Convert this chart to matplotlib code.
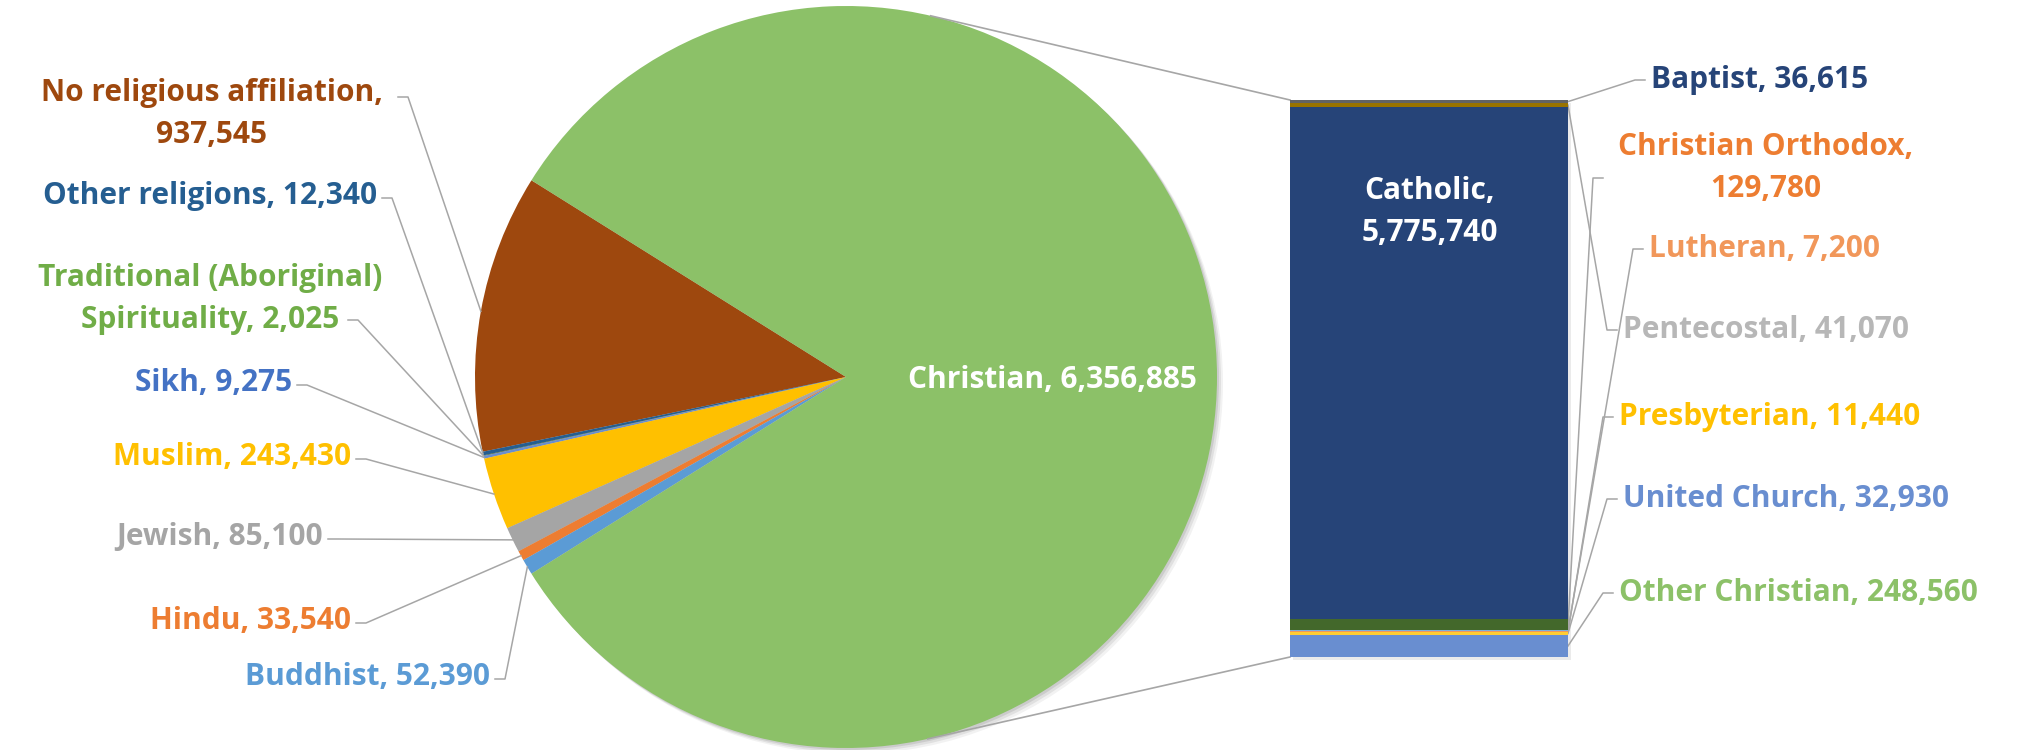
import matplotlib.pyplot as plt
import numpy as np

# main pie categories (Christian is split out into the bar)
pie_names = ['No religious affiliation', 'Other religions', 'Traditional (Aboriginal)\nSpirituality',
             'Sikh', 'Muslim', 'Jewish', 'Hindu', 'Buddhist', 'Christian']
pie_values = [937545, 12340, 2025, 9275, 243430, 85100, 33540, 52390, 6356885]
pie_colors = ['#9E480E', '#255E91', '#43682B', '#698ED0', '#FFC000', '#A5A5A5', '#ED7D31', '#5B9BD5', '#8CC168']
pie_label_colors = ['#9E480E', '#255E91', '#70AD47', '#4472C4', '#FFC000', '#A5A5A5', '#ED7D31', '#5B9BD5', 'white']

# christian denominations, bottom to top of the bar
bar_names = ['Other Christian', 'United Church', 'Presbyterian', 'Lutheran', 'Christian Orthodox',
             'Catholic', 'Pentecostal', 'Baptist']
bar_values = [248560, 32930, 11440, 7200, 129780, 5775740, 41070, 36615]
bar_colors = ['#698ED0', '#FFCD33', '#F1975A', '#7CAFDD', '#43682B', '#264478', '#997300', '#636363']
bar_label_colors = ['#8CC168', '#698ED0', '#FFC000', '#F1975A', '#ED7D31', 'white', '#B7B7B7', '#264478']

break_after_comma = ['No religious affiliation', 'Christian Orthodox', 'Catholic']

# label anchor positions in pixels (x, y from top)
pie_label_pos = [(212, 114), (377, 196), (210, 299), (292, 383), (351, 457),
                 (323, 537), (351, 621), (490, 677), (1052, 380)]
pie_tick_pos = [(398, 97), (382, 198), (348, 320), (297, 385), (356, 459),
                (328, 539), (356, 623), (495, 679), None]
bar_label_pos = [(1619, 593), (1623, 499), (1619, 417), (1649, 249), (1766, 168),
                 (1430, 212), (1623, 330), (1651, 80)]
bar_tick_pos = [(1613, 593), (1617, 499), (1613, 417), (1643, 249), (1603, 178),
                None, (1617, 330), (1645, 80)]

W, H = 2023, 750
FONT = 'Open Sans'
FS = 21.5
LSP = 1.5
LINE = '#A6A6A6'


def label_text(name, value):
    if name in break_after_comma:
        return f'{name},\n{value:,}'
    return f'{name}, {value:,}'


fig = plt.figure(figsize=(W / 100, H / 100), dpi=100)
ax = fig.add_axes([0, 0, 1, 1])

cx, cy, r = 846, H - 377, 371
start = 180 * pie_values[-1] / sum(pie_values)

# soft shadow under the pie
for off, a in [(6, 0.05), (4, 0.07), (2, 0.09)]:
    ax.add_patch(plt.Circle((cx + off, cy - off), r, color='black', alpha=a, lw=0, zorder=0))

wedges, _ = ax.pie(pie_values, colors=pie_colors, startangle=start, counterclock=True,
                   center=(cx, cy), radius=r, wedgeprops=dict(linewidth=0))
for w in wedges:
    w.set_zorder(1)

ax.set_xlim(0, W)
ax.set_ylim(0, H)
ax.set_aspect('auto')
ax.axis('off')

# stacked bar in its own axes
bx0, bx1, by0, by1 = 1290, 1568, 100, 657
bax = fig.add_axes([bx0 / W, (H - by1) / H, (bx1 - bx0) / W, (by1 - by0) / H])
bottoms = np.concatenate([[0], np.cumsum(bar_values)[:-1]])
bar_total = sum(bar_values)
# shadow
ax.add_patch(plt.Rectangle((bx0 + 3, H - by1 - 3), bx1 - bx0, by1 - by0, color='black', alpha=0.08, lw=0))
bax.bar(0, bar_values, bottom=bottoms, width=1, color=bar_colors, linewidth=0)
bax.set_xlim(-0.5, 0.5)
bax.set_ylim(0, bar_total)
bax.axis('off')

fig.canvas.draw()


def bar_pt(x, y):
    return ax.transData.inverted().transform(bax.transData.transform((x, y)))


# tangent connector lines from pie to bar corners
for corner, sign in [(bar_pt(-0.5, bar_total), 1), (bar_pt(-0.5, 0), -1)]:
    dx, dy = corner[0] - cx, corner[1] - cy
    d = np.hypot(dx, dy)
    ang = np.arctan2(dy, dx) + sign * np.arccos(r / d)
    tx, ty = cx + r * np.cos(ang), cy + r * np.sin(ang)
    ax.plot([tx, corner[0]], [ty, corner[1]], color=LINE, lw=1.2, zorder=3)

# pie labels
for w, name, val, col, pos, tick in zip(wedges, pie_names, pie_values, pie_label_colors,
                                        pie_label_pos, pie_tick_pos):
    txt = label_text(name, val)
    if tick is None:
        ax.text(pos[0], H - pos[1], txt, ha='center', va='center', color=col,
                fontsize=FS, fontweight='bold', family=FONT, zorder=4)
        continue
    ha = 'center' if '\n' in txt else 'right'
    ax.text(pos[0], H - pos[1], txt, ha=ha, va='center', color=col, fontsize=FS,
            fontweight='bold', family=FONT, linespacing=LSP, zorder=4)
    mid = np.deg2rad((w.theta1 + w.theta2) / 2)
    px, py = cx + r * np.cos(mid), cy + r * np.sin(mid)
    ax.plot([tick[0], tick[0] + 10, px], [H - tick[1], H - tick[1], py],
            color=LINE, lw=1.1, zorder=3)

# bar labels
for name, val, col, b, v, pos, tick in zip(bar_names, bar_values, bar_label_colors, bottoms,
                                           bar_values, bar_label_pos, bar_tick_pos):
    txt = label_text(name, val)
    if tick is None:
        # label sits inside the bar, so it belongs to the bar axes
        bax.text(pos[0], H - pos[1], txt, transform=ax.transData, ha='center', va='center',
                 color=col, fontsize=FS, fontweight='bold', family=FONT, linespacing=LSP,
                 zorder=4, clip_on=False)
        continue
    ha = 'center' if '\n' in txt else 'left'
    ax.text(pos[0], H - pos[1], txt, ha=ha, va='center', color=col, fontsize=FS,
            fontweight='bold', family=FONT, linespacing=LSP, zorder=4)
    ex, ey = bar_pt(0.5, b + v / 2)
    ax.plot([tick[0], tick[0] - 10, ex], [H - tick[1], H - tick[1], ey],
            color=LINE, lw=1.1, zorder=3)

fig.savefig('out.png', dpi=100)
